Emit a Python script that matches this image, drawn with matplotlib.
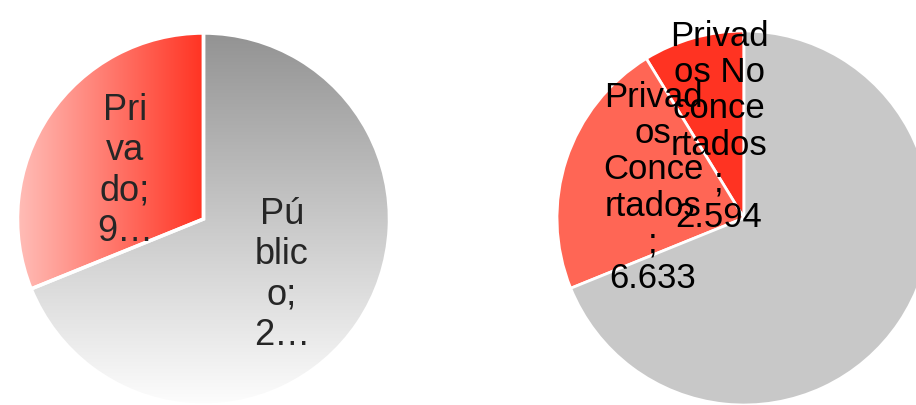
import numpy as np
import matplotlib
matplotlib.use("Agg")
import matplotlib.pyplot as plt
from matplotlib.colors import LinearSegmentedColormap

# datos (miles de alumnos)
cats_total = ["Privado", "Público"]
vals_total = [9.227, 20.412]
labels_total = ["Pri\nva\ndo;\n9…", "Pú\nblic\no;\n2…"]

cats_detalle = ["Privados No concertados", "Privados Concertados", "Público"]
vals_detalle = [2.594, 6.633, 20.412]
labels_detalle = ["Privad\nos No\nconce\nrtados\n;\n2.594",
                  "Privad\nos\nConce\nrtados\n;\n6.633",
                  ""]

plt.rcParams['font.family'] = ['Liberation Sans', 'DejaVu Sans']

fig = plt.figure(figsize=(9.16, 4.06), dpi=100)
ax = fig.add_axes([0, 0, 1, 1])

# --- pie izquierdo con degradados ---
c1, r1 = (203.5, 186), 186
wedges1, _ = ax.pie(vals_total, startangle=90, counterclock=True,
                    center=c1, radius=r1, frame=True,
                    wedgeprops=dict(edgecolor='white', linewidth=2.5))

ext = [c1[0] - r1, c1[0] + r1, c1[1] - r1, c1[1] + r1]
cm_red = LinearSegmentedColormap.from_list('rojo', ['#ffbdb7', '#ff3322'])
cm_gris = LinearSegmentedColormap.from_list('gris', ['#fdfdfd', '#939393'])
grad_h = np.linspace(0, 1, 256).reshape(1, -1)
grad_v = np.linspace(0, 1, 256).reshape(-1, 1)

# rojo: de izquierda (claro) a la línea vertical central (intenso)
im = ax.imshow(grad_h, cmap=cm_red, extent=[c1[0] - r1, c1[0], ext[2], ext[3]],
               origin='lower', aspect='auto', zorder=1)
im.set_clip_path(wedges1[0])
# gris: de abajo (blanco) hacia arriba (gris)
im2 = ax.imshow(grad_v, cmap=cm_gris, extent=ext, origin='lower',
                aspect='auto', zorder=1)
im2.set_clip_path(wedges1[1])
for w in wedges1:
    w.set_facecolor('none')
    w.set_zorder(2)

ax.text(125, 406 - 171, labels_total[0], ha='center', va='center',
        fontsize=26, color='#262626', linespacing=1.2, zorder=3)
ax.text(282, 406 - 275, labels_total[1], ha='center', va='center',
        fontsize=26, color='#262626', linespacing=1.2, zorder=3)

# --- pie derecho ---
c2, r2 = (744, 187), 187
wedges2, _ = ax.pie(vals_detalle, startangle=90, counterclock=True,
                    center=c2, radius=r2, frame=True,
                    colors=['#ff3322', '#ff6655', '#c8c8c8'],
                    wedgeprops=dict(edgecolor='white', linewidth=2))

ax.text(719, 406 - 127, labels_detalle[0], ha='center', va='center',
        fontsize=25, color='black', linespacing=1.13, zorder=3)
ax.text(653, 406 - 188, labels_detalle[1], ha='center', va='center',
        fontsize=25, color='black', linespacing=1.13, zorder=3)

ax.set_xlim(0, 916)
ax.set_ylim(0, 406)
ax.set_aspect('equal')
ax.axis('off')

fig.savefig("out.png", dpi=100)
